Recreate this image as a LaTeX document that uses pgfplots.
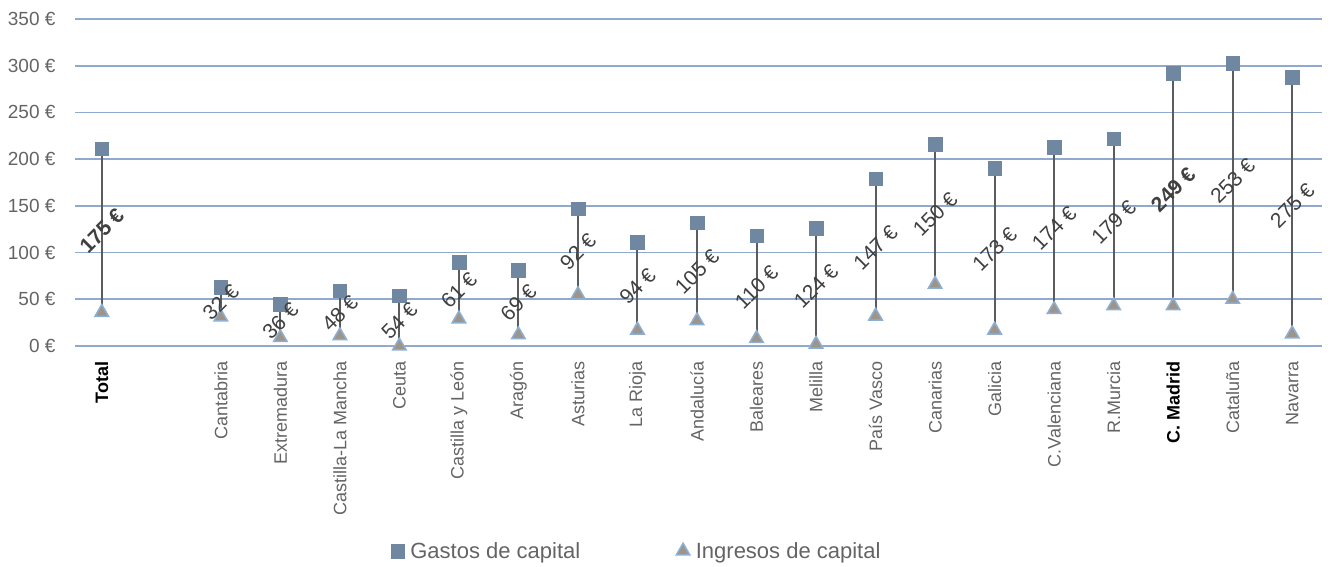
\documentclass[border=0pt]{standalone}
\usepackage{pgfplots}
\pgfplotsset{compat=1.18}
\usepackage{pgfplotstable}
\usepackage{fontspec}
\setmainfont{Liberation Sans}
\definecolor{gridc}{RGB}{143,170,204}
\definecolor{sq}{RGB}{111,135,161}
\definecolor{trif}{RGB}{158,148,138}
\definecolor{tric}{RGB}{140,176,212}
\definecolor{stem}{RGB}{90,92,96}
\definecolor{lbl}{RGB}{64,64,64}
\definecolor{tk}{RGB}{100,100,100}
\pgfplotstableread{
x g i lab m
0 211 36 175 123.5
2 63 31 32 47
3 45 9 36 27
4 59 11 48 35
5 54 0 54 27
6 90 29 61 59.5
7 81 12 69 46.5
8 147 55 92 101
9 111 17 94 64
10 132 27 105 79.5
11 118 8 110 63
12 126 2 124 64
13 179 32 147 105.5
14 216 66 150 141
15 190 17 173 103.5
16 213 39 174 126
17 222 43 179 132.5
18 292 43 249 167.5
19 303 50 253 176.5
20 288 13 275 150.5
}\data
\pgfplotstableread{
x lab m
2 32 47
3 36 27
4 48 35
5 54 27
6 61 59.5
7 69 46.5
8 92 101
9 94 64
10 105 79.5
11 110 63
12 124 64
13 147 105.5
14 150 141
15 173 103.5
16 174 126
17 179 132.5
19 253 176.5
20 275 150.5
}\labn
\pgfplotstableread{
x lab m
0 175 123.5
18 249 167.5
}\labb
\begin{document}
\begin{tikzpicture}
\useasboundingbox (0,0) rectangle (1344pt,567pt);
\begin{axis}[
  at={(75pt,221pt)}, anchor=south west,
  scale only axis, width=1247pt, height=327pt,
  xmin=-0.45, xmax=20.5, ymin=0, ymax=350,
  clip=false,
  axis x line*=bottom, axis y line*=left,
  axis line style={draw=none}, tick style={draw=none},
  ytick={0,50,...,350},
  ymajorgrids, grid style={gridc, line width=1.8pt},
  /pgf/number format/assume math mode=true,
  yticklabel={\pgfmathprintnumber{\tick}~€},
  yticklabel style={font=\fontsize{19}{22}\selectfont, text=tk, xshift=-16pt},
  xtick={0,2,3,4,5,6,7,8,9,10,11,12,13,14,15,16,17,18,19,20},
  xticklabels={{\color{black}\bfseries Total},Cantabria,Extremadura,Castilla-La Mancha,Ceuta,Castilla y León,Aragón,Asturias,La Rioja,Andalucía,Baleares,Melilla,País Vasco,Canarias,Galicia,C.Valenciana,R.Murcia,{\color{black}\bfseries C. Madrid},Cataluña,Navarra},
  xticklabel shift=12pt,
  xticklabel style={font=\fontsize{18}{21}\selectfont, text=tk, rotate=90, anchor=east},
  legend columns=2,
  legend style={draw=none, fill=none, at={(0.452,-0.627)}, anchor=center,
    font=\fontsize{22}{26}\selectfont, text=tk,
    nodes={inner xsep=6pt},
    /tikz/every even column/.append style={column sep=90pt}},
  legend cell align=left,
]
\addplot[draw=none, forget plot, mark=none,
  error bars/.cd, y dir=minus, y explicit,
  error bar style={line width=2pt, color=stem}, error mark=none]
  table[x=x, y=g, y error minus=lab] {\data};
\addplot[only marks, mark=square*, mark size=6.8pt, mark options={fill=sq, draw=sq}]
  table[x=x, y=g] {\data};
\addlegendentry{Gastos de capital}
\addplot[only marks, mark=triangle*, mark size=7.8pt, mark options={fill=trif, draw=tric, line width=1.5pt}]
  table[x=x, y=i] {\data};
\addlegendentry{Ingresos de capital}
\addplot[draw=none, mark=none, forget plot,
  point meta=explicit,
  nodes near coords={\pgfmathprintnumber{\pgfplotspointmeta}~€},
  nodes near coords style={rotate=45, anchor=center, text=lbl, font=\fontsize{21}{24}\selectfont,
    /pgf/number format/assume math mode=true}]
  table[x=x, y=m, meta=lab] {\labn};
\addplot[draw=none, mark=none, forget plot,
  point meta=explicit,
  nodes near coords={\pgfmathprintnumber{\pgfplotspointmeta}~€},
  nodes near coords style={rotate=45, anchor=center, text=lbl, font=\fontsize{21}{24}\selectfont\bfseries,
    /pgf/number format/assume math mode=true}]
  table[x=x, y=m, meta=lab] {\labb};
\end{axis}
\end{tikzpicture}
\end{document}
